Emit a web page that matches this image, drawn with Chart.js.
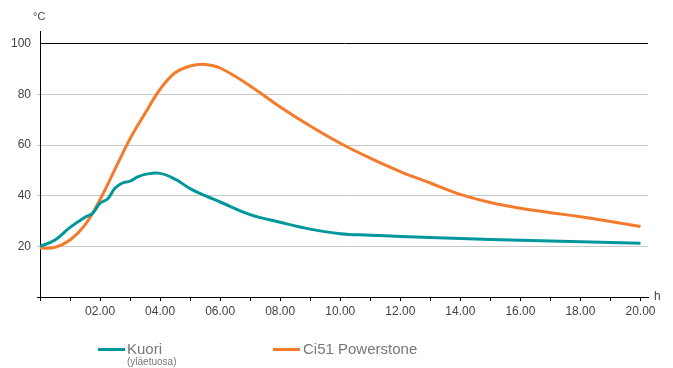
<!DOCTYPE html>
<html>
<head>
<meta charset="utf-8">
<script src="https://cdn.jsdelivr.net/npm/chart.js@4/dist/chart.umd.min.js"></script>
<style>
  body { margin: 0; background: #fff; font-family: 'Liberation Sans', Arial, sans-serif; }
  #wrap { position: relative; width: 673px; height: 368px; }
  canvas { position: absolute; left: 0; top: 0; }
  .lbl { position: absolute; color: #444; white-space: nowrap; }
  .sw { position: absolute; height: 3px; }
  .leg { position: absolute; color: #777; font-size: 15px; white-space: nowrap; }
  .leg small { display: block; font-size: 10px; line-height: 9px; }
</style>
</head>
<body>
<div id="wrap">
  <canvas id="chart" width="673" height="368"></canvas>
  <div class="lbl" style="left:33px; top:10px; font-size:11px;">°C</div>
  <div class="lbl" style="left:654px; top:289px; font-size:12px;">h</div>
  <div class="sw" style="left:98px; top:348px; width:27px; background:#00979c;"></div>
  <div class="leg" style="left:127px; top:341px; line-height:16px;">Kuori<small>(yläetuosa)</small></div>
  <div class="sw" style="left:273px; top:348px; width:27px; background:#f47b2b;"></div>
  <div class="leg" style="left:303px; top:341px; line-height:16px;">Ci51 Powerstone</div>
</div>
<script>
const kuoriHours = [0, 0.5, 1, 1.5, 1.75, 2, 2.25, 2.5, 2.75, 3, 3.25, 3.5, 4, 4.5, 5, 5.5, 6, 7, 8, 9, 10, 11, 12, 14, 16, 18, 20];
const kuoriTemps = [20, 22.5, 27.5, 31.5, 33, 37, 38.7, 43, 45, 45.7, 47.4, 48.4, 48.8, 46.5, 42.8, 40, 37.5, 32.5, 29.5, 26.8, 25, 24.4, 23.9, 23.1, 22.4, 21.8, 21.2];

const stoneHours = [0, 0.5, 1, 1.5, 2, 2.5, 3, 3.5, 4, 4.5, 5, 5.5, 6, 7, 8, 9, 10, 11, 12, 13, 14, 15, 16, 17, 18, 19, 20];
const stoneTemps = [19.3, 19.6, 22.5, 28.5, 38.5, 50.5, 62.5, 72.5, 82, 88.5, 91.2, 91.8, 90.4, 83.3, 75, 67.5, 60.7, 54.8, 49.5, 45, 40.5, 37.3, 35, 33.3, 31.7, 29.8, 27.8];

const toPoints = (xs, ys) => xs.map((x, i) => ({ x: x, y: ys[i] }));
const pad = n => (n < 10 ? '0' : '') + n;
const font = { family: "'Liberation Sans', Arial, sans-serif", size: 12 };

new Chart(document.getElementById('chart'), {
    type: 'line',
    data: {
        datasets: [
            { label: 'Kuori', data: toPoints(kuoriHours, kuoriTemps), borderColor: '#00979c', borderWidth: 3, pointRadius: 0, tension: 0.4, fill: false },
            { label: 'Ci51 Powerstone', data: toPoints(stoneHours, stoneTemps), borderColor: '#f47b2b', borderWidth: 3, pointRadius: 0, tension: 0.4, fill: false }
        ]
    },
    options: {
        responsive: false, animation: false,
        layout: { padding: { left: 0, right: 25, top: 31, bottom: 0 } },
        plugins: { legend: { display: false }, tooltip: { enabled: false } },
        scales: {
            x: {
                type: 'linear', min: 0, max: 20.25,
                border: { color: '#000', width: 1 },
                grid: { drawOnChartArea: false, drawTicks: true, tickColor: '#000', tickLength: 4 },
                ticks: { stepSize: 1, includeBounds: false, autoSkip: false, maxRotation: 0, padding: 3, color: '#444', font: font,
                    callback: v => (v > 0 && v % 2 === 0) ? pad(v) + '.00' : '' },
                afterFit: s => { s.height = 71; }
            },
            y: {
                min: 0, max: 105,
                border: { color: '#000', width: 1 },
                grid: {
                    color: c => c.tick.value === 100 ? '#000' : (c.tick.value === 0 ? 'rgba(0,0,0,0)' : '#c8c8c8'),
                    tickColor: c => c.tick.value === 100 ? 'rgba(0,0,0,0)' : (c.tick.value === 0 ? '#000' : '#c8c8c8'),
                    tickLength: 3
                },
                ticks: { stepSize: 20, includeBounds: false, padding: 6, color: '#444', font: font,
                    callback: v => v > 0 ? v : '' },
                afterFit: s => { s.width = 40; }
            }
        }
    }
});
</script>
</body>
</html>
